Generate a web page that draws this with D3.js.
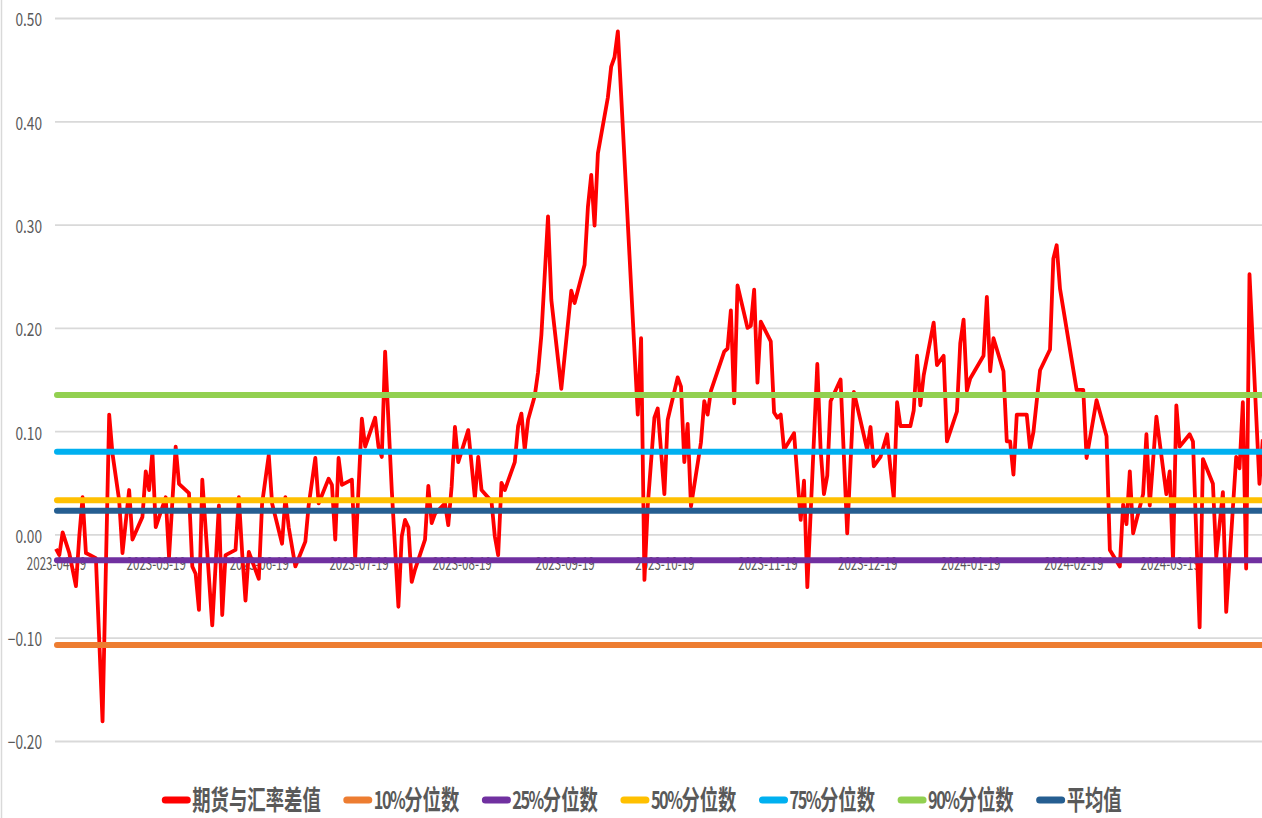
<!DOCTYPE html>
<html><head><meta charset="utf-8">
<script src="https://cdn.jsdelivr.net/npm/d3@7/dist/d3.min.js"></script>
<style>body{margin:0;background:#fff;overflow:hidden}svg{display:block}</style>
</head><body><svg id="c" width="1262" height="818"></svg>
<script>
const seriesName = "期货与汇率差值";
const dates = [
"2023-04-19","2023-04-20","2023-04-21","2023-04-23","2023-04-25","2023-04-26","2023-04-27","2023-04-28",
"2023-05-01","2023-05-02","2023-05-03","2023-05-05","2023-05-06","2023-05-08","2023-05-09","2023-05-11",
"2023-05-12","2023-05-15","2023-05-16","2023-05-17","2023-05-18","2023-05-19","2023-05-22","2023-05-23",
"2023-05-25","2023-05-26","2023-05-29","2023-05-30","2023-05-31","2023-06-01","2023-06-02","2023-06-05",
"2023-06-07","2023-06-08","2023-06-09","2023-06-12","2023-06-13","2023-06-14","2023-06-15","2023-06-16",
"2023-06-19","2023-06-20","2023-06-22","2023-06-23","2023-06-26","2023-06-27","2023-06-28","2023-06-30",
"2023-07-03","2023-07-04","2023-07-06","2023-07-07","2023-07-10","2023-07-11","2023-07-12","2023-07-13",
"2023-07-14","2023-07-17","2023-07-18","2023-07-20","2023-07-21","2023-07-24","2023-07-25","2023-07-26",
"2023-07-27","2023-07-29","2023-07-31","2023-08-01","2023-08-02","2023-08-03","2023-08-04","2023-08-05",
"2023-08-08","2023-08-09","2023-08-10","2023-08-11","2023-08-14","2023-08-15","2023-08-16","2023-08-17",
"2023-08-18","2023-08-21","2023-08-23","2023-08-24","2023-08-25","2023-08-28","2023-08-29","2023-08-30",
"2023-08-31","2023-09-01","2023-09-04","2023-09-05","2023-09-06","2023-09-07","2023-09-08","2023-09-10",
"2023-09-11","2023-09-12","2023-09-14","2023-09-15","2023-09-18","2023-09-21","2023-09-22","2023-09-25",
"2023-09-26","2023-09-27","2023-09-28","2023-09-29","2023-10-02","2023-10-03","2023-10-04","2023-10-05",
"2023-10-11","2023-10-12","2023-10-13","2023-10-14","2023-10-16","2023-10-17","2023-10-19","2023-10-20",
"2023-10-23","2023-10-24","2023-10-25","2023-10-26","2023-10-27","2023-10-30","2023-10-31","2023-11-01",
"2023-11-02","2023-11-06","2023-11-07","2023-11-08","2023-11-09","2023-11-10","2023-11-13","2023-11-14",
"2023-11-15","2023-11-16","2023-11-17","2023-11-20","2023-11-21","2023-11-22","2023-11-23","2023-11-24",
"2023-11-27","2023-11-29","2023-11-30","2023-12-01","2023-12-04","2023-12-05","2023-12-06","2023-12-07",
"2023-12-08","2023-12-11","2023-12-13","2023-12-15","2023-12-19","2023-12-20","2023-12-21","2023-12-23",
"2023-12-25","2023-12-26","2023-12-27","2023-12-28","2023-12-29","2024-01-01","2024-01-02","2024-01-03",
"2024-01-04","2024-01-05","2024-01-08","2024-01-09","2024-01-11","2024-01-12","2024-01-15","2024-01-16",
"2024-01-17","2024-01-18","2024-01-19","2024-01-23","2024-01-24","2024-01-25","2024-01-26","2024-01-29",
"2024-01-30","2024-01-31","2024-02-01","2024-02-02","2024-02-05","2024-02-06","2024-02-07","2024-02-09",
"2024-02-12","2024-02-13","2024-02-14","2024-02-15","2024-02-20","2024-02-22","2024-02-23","2024-02-26",
"2024-02-29","2024-03-01","2024-03-04","2024-03-05","2024-03-06","2024-03-07","2024-03-08","2024-03-11",
"2024-03-12","2024-03-13","2024-03-15","2024-03-18","2024-03-19","2024-03-20","2024-03-21","2024-03-22",
"2024-03-25","2024-03-26","2024-03-28","2024-03-29","2024-04-01","2024-04-02","2024-04-04","2024-04-05",
"2024-04-08","2024-04-09","2024-04-10","2024-04-11","2024-04-12","2024-04-15","2024-04-16"
];
const values = [
-0.014,-0.020,0.002,-0.018,-0.050,-0.002,0.036,-0.018,
-0.023,-0.102,-0.181,0.116,0.078,0.033,-0.018,0.043,
-0.005,0.017,0.061,0.043,0.080,0.007,0.036,-0.022,
0.085,0.049,0.040,-0.031,-0.038,-0.073,0.053,-0.088,
0.028,-0.078,-0.020,-0.015,0.036,-0.018,-0.064,-0.017,
-0.043,0.030,0.077,0.030,-0.009,0.036,0.007,-0.031,
-0.007,0.028,0.074,0.030,0.054,0.048,-0.005,0.074,
0.048,0.053,-0.023,0.112,0.085,0.113,0.085,0.075,
0.177,0.043,-0.070,-0.002,0.014,0.007,-0.046,-0.034,
-0.005,0.047,0.011,0.020,0.030,0.009,0.046,0.104,
0.070,0.101,0.035,0.075,0.043,0.032,-0.002,-0.020,
0.050,0.043,0.070,0.105,0.117,0.082,0.111,0.134,
0.157,0.193,0.308,0.227,0.141,0.236,0.224,0.261,
0.317,0.348,0.299,0.369,0.423,0.453,0.462,0.487,
0.116,0.190,-0.044,0.028,0.113,0.122,0.039,0.111,
0.152,0.143,0.070,0.107,0.027,0.089,0.129,0.116,
0.139,0.177,0.180,0.217,0.127,0.241,0.200,0.202,
0.237,0.147,0.206,0.187,0.118,0.113,0.116,0.082,
0.098,0.014,0.052,-0.051,0.165,0.082,0.039,0.057,
0.129,0.150,0.001,0.138,0.082,0.104,0.066,0.075,
0.097,0.064,0.035,0.128,0.105,0.105,0.120,0.173,
0.125,0.154,0.205,0.164,0.173,0.090,0.119,0.185,
0.208,0.139,0.151,0.173,0.230,0.158,0.190,0.158,
0.090,0.090,0.058,0.116,0.116,0.083,0.099,0.159,
0.179,0.267,0.280,0.238,0.140,0.140,0.074,0.130,
0.095,-0.015,-0.031,0.029,0.010,0.061,0.001,0.039,
0.097,0.028,0.114,0.039,0.061,-0.026,0.125,0.085,
0.097,0.090,-0.090,0.073,0.049,-0.022,0.041,-0.075,
0.075,0.064,0.128,-0.033,0.252,0.049,0.092
];
const statNames = ["10%分位数","25%分位数","50%分位数","75%分位数","90%分位数","平均值"];
const statValues = [-0.107,-0.025,0.033,0.080,0.135,0.023];
const statColors = ["#ED7D31","#7030A0","#FFC000","#00B0F0","#92D050","#255E91"];
const seriesColor = "#FF0000";
const yTicks = [-0.2,-0.1,0,0.1,0.2,0.3,0.4,0.5];
const xTickLabels = ["2023-04-19","2023-05-19","2023-06-19","2023-07-19","2023-08-19","2023-09-19",
  "2023-10-19","2023-11-19","2023-12-19","2024-01-19","2024-02-19","2024-03-19"];

const parse = d3.utcParse("%Y-%m-%d");
const data = dates.map((d,i)=>({date:parse(d), v:values[i]}));
const svg = d3.select("#c");
const FONT = "'Noto Sans CJK SC','Noto Sans',sans-serif";
const left = 55, right = 1300;

const x = d3.scaleUtc().domain([parse("2023-04-19"), parse("2024-03-19")]).range([56, 1169.7]);
const y = d3.scaleLinear().domain([-0.2, 0.5]).range([741, 18]);

// left border
svg.append("line").attr("x1",1.5).attr("x2",1.5).attr("y1",0).attr("y2",818)
  .attr("stroke","#d9d9d9").attr("stroke-width",1.5);

// y axis + gridlines
const gy = svg.append("g").attr("transform",`translate(${left},0)`)
  .call(d3.axisLeft(y).tickValues(yTicks).tickFormat(d3.format(".2f")).tickSize(-(right-left)).tickPadding(0));
gy.select(".domain").remove();
gy.selectAll(".tick line").attr("stroke","#d9d9d9").attr("stroke-width",1.8);
gy.selectAll(".tick text").attr("x",0).attr("dy",null).attr("dominant-baseline","central")
  .attr("text-anchor","end").attr("transform","translate(-13,0) scale(0.76,1)")
  .attr("fill","#595959").style("font-size","18px").style("font-family",FONT);

// x axis labels
const gx = svg.append("g").attr("transform","translate(0,562)")
  .call(d3.axisBottom(x).tickValues(xTickLabels.map(parse)).tickFormat(d3.utcFormat("%Y-%m-%d")).tickSize(0).tickPadding(0));
gx.select(".domain").remove();
gx.selectAll(".tick text").attr("y",0).attr("dy",null).attr("dominant-baseline","central")
  .attr("transform","scale(0.66,1)")
  .attr("fill","#595959").style("font-size","17.5px").style("font-family",FONT);

// series line
svg.append("path").datum(data)
  .attr("fill","none").attr("stroke",seriesColor).attr("stroke-width",3.8)
  .attr("stroke-linejoin","round")
  .attr("d", d3.line().x(d=>x(d.date)).y(d=>y(d.v)));

// stat lines
statValues.forEach((v,i)=>{
  svg.append("line").attr("x1",57).attr("x2",right).attr("y1",y(v)).attr("y2",y(v))
    .attr("stroke",statColors[i]).attr("stroke-width",6).attr("stroke-linecap","round");
});

// legend
const items = [{name:seriesName,color:seriesColor}].concat(statNames.map((n,i)=>({name:n,color:statColors[i]})));
const SX = 0.68, sw = 28, gapT = 2, gapI = 23, ly = 798;
const lg = svg.append("g");
const widths = [];
items.forEach(it=>{
  const t = lg.append("text").style("font-size","27px").style("font-weight","700")
    .style("font-family",FONT).attr("fill","#595959").attr("dominant-baseline","central");
  const m = it.name.match(/^([0-9%]*)(.*)$/);
  if (m[1]) t.append("tspan").text(m[1]).style("font-size","24px").style("letter-spacing","-2.2px");
  t.append("tspan").text(m[2]);
  widths.push(t.node().getComputedTextLength()*SX);
  it.node = t;
});
const total = d3.sum(widths) + items.length*(sw+gapT) + (items.length-1)*gapI;
let cx = 642 - total/2;
items.forEach((it,i)=>{
  lg.append("line").attr("x1",cx+3).attr("x2",cx+sw-3).attr("y1",ly+2).attr("y2",ly+2)
    .attr("stroke",it.color).attr("stroke-width",7).attr("stroke-linecap","round");
  it.node.attr("transform",`translate(${cx+sw+gapT},${ly}) scale(${SX},1)`);
  cx += sw + gapT + widths[i] + gapI;
});
</script></body></html>
